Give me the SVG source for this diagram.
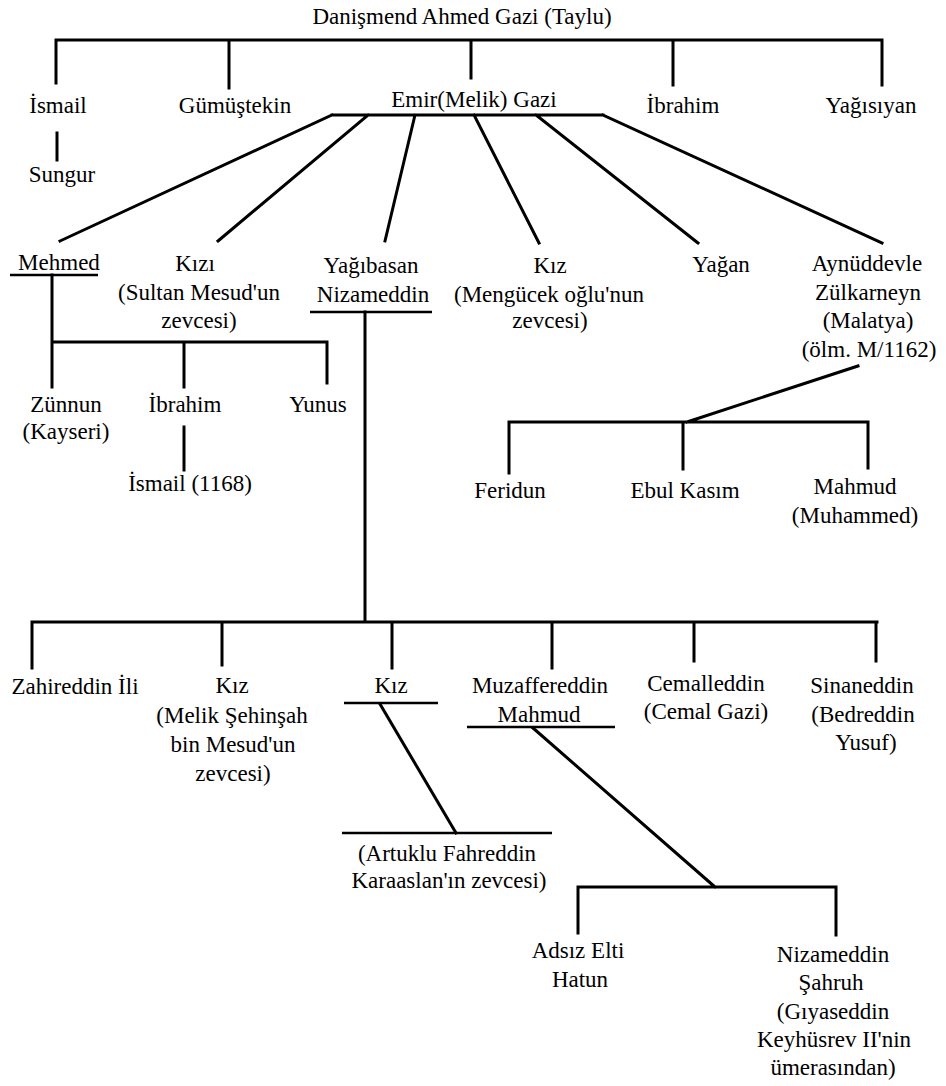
<svg xmlns="http://www.w3.org/2000/svg" width="946" height="1086" viewBox="0 0 946 1086">
<style>
text{font-family:"Liberation Serif","Times New Roman",serif;font-size:23px;fill:#000;text-anchor:middle}
.c{stroke:#000;stroke-width:3;fill:none;stroke-linecap:square}
.u{stroke:#000;stroke-width:2.5;fill:none}
</style>
<rect width="946" height="1086" fill="#fff"/>
<g id="connectors">
<path class="c" d="M56 40H882M56 40V83M229 40V88M471 40V78M673 40V85M882 40V85"/>
<path class="c" d="M57 133V160"/>
<path class="c" d="M332 115H603M332 115L60 241M368 115L218 241M415 115L385 241M474 115L539 243M536 115L698 243M603 115L882 243"/>
<path class="c" d="M52 275V342H327V383M52 342V387M184 342V387"/>
<path class="c" d="M184 427V470"/>
<path class="c" d="M858 366L687 422M509 422H868M509 422V473M683 422V469M868 422V468"/>
<path class="c" d="M365 312V622M32 622H877M32 622V668M222 622V665M392 622V668M552 622V668M694 622V661M876 622V661"/>
<path class="c" d="M380 704L456 833"/>
<path class="c" d="M533 728L715 887M578 887H836M578 887V933M836 887V935"/>
</g>
<g id="n_root"><text x="462" y="24">Danişmend Ahmed Gazi (Taylu)</text></g>
<g id="n_ismail"><text x="58" y="113">İsmail</text></g>
<g id="n_gumustekin"><text x="235" y="113">Gümüştekin</text></g>
<g id="n_emir"><text x="474" y="107">Emir(Melik) Gazi</text></g>
<g id="n_ibrahim"><text x="683" y="113">İbrahim</text></g>
<g id="n_yagisiyan"><text x="871" y="113">Yağısıyan</text></g>
<g id="n_sungur"><text x="62" y="182">Sungur</text></g>
<g id="n_mehmed"><text x="59" y="270">Mehmed</text><line class="u" x1="10" y1="275" x2="98" y2="275"/></g>
<g id="n_kizi"><text x="195" y="271">Kızı</text><text x="199" y="300">(Sultan Mesud'un</text><text x="199" y="328">zevcesi)</text></g>
<g id="n_yagibasan"><text x="371" y="273">Yağıbasan</text><text x="373" y="302">Nizameddin</text><line class="u" x1="310" y1="312" x2="432" y2="312"/></g>
<g id="n_kiz_mengucek"><text x="550" y="273">Kız</text><text x="549" y="302">(Mengücek oğlu'nun</text><text x="550" y="328">zevcesi)</text></g>
<g id="n_yagan"><text x="721" y="272">Yağan</text></g>
<g id="n_aynuddevle"><text x="867" y="271">Aynüddevle</text><text x="868" y="300">Zülkarneyn</text><text x="868" y="328">(Malatya)</text><text x="869" y="357">(ölm. M/1162)</text></g>
<g id="n_zunnun"><text x="66" y="412">Zünnun</text><text x="66" y="439">(Kayseri)</text></g>
<g id="n_ibrahim2"><text x="185" y="412">İbrahim</text></g>
<g id="n_yunus"><text x="318" y="412">Yunus</text></g>
<g id="n_ismail1168"><text x="190" y="491">İsmail (1168)</text></g>
<g id="n_feridun"><text x="510" y="498">Feridun</text></g>
<g id="n_ebulkasim"><text x="685" y="498">Ebul Kasım</text></g>
<g id="n_mahmud_muhammed"><text x="855" y="494">Mahmud</text><text x="855" y="523">(Muhammed)</text></g>
<g id="n_zahireddin"><text x="75" y="694">Zahireddin İli</text></g>
<g id="n_kiz_melik"><text x="232" y="693">Kız</text><text x="232" y="723">(Melik Şehinşah</text><text x="233" y="752">bin Mesud'un</text><text x="233" y="781">zevcesi)</text></g>
<g id="n_kiz_artuklu"><text x="391" y="693">Kız</text><line class="u" x1="344" y1="703" x2="438" y2="703"/></g>
<g id="n_artuklu_spouse"><line class="u" x1="342" y1="833" x2="552" y2="833"/><text x="447" y="861">(Artuklu Fahreddin</text><text x="449" y="888">Karaaslan'ın zevcesi)</text></g>
<g id="n_muzaffereddin"><text x="540" y="693">Muzaffereddin</text><text x="539" y="722">Mahmud</text><line class="u" x1="467" y1="727" x2="615" y2="727"/></g>
<g id="n_cemalleddin"><text x="706" y="691">Cemalleddin</text><text x="706" y="719">(Cemal Gazi)</text></g>
<g id="n_sinaneddin"><text x="862" y="693">Sinaneddin</text><text x="863" y="722">(Bedreddin</text><text x="866" y="750">Yusuf)</text></g>
<g id="n_adsiz"><text x="578" y="958">Adsız Elti</text><text x="580" y="987">Hatun</text></g>
<g id="n_nizameddin_sahruh"><text x="833" y="962">Nizameddin</text><text x="831" y="990">Şahruh</text><text x="833" y="1019">(Gıyaseddin</text><text x="834" y="1047">Keyhüsrev II'nin</text><text x="833" y="1075">ümerasından)</text></g>
</svg>
